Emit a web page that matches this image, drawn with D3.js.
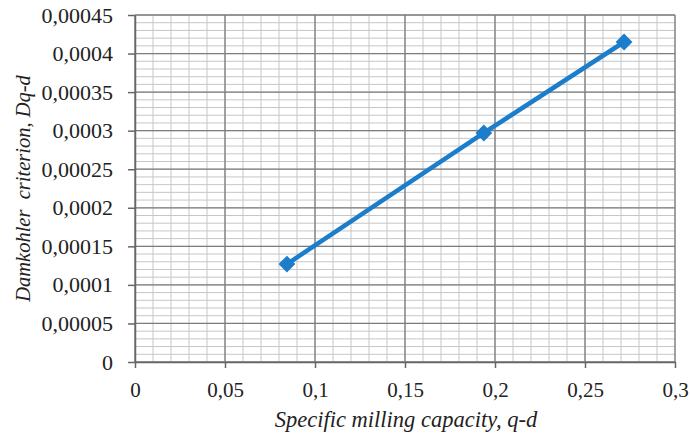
<!DOCTYPE html>
<html>
<head>
<meta charset="utf-8">
<script src="https://cdn.jsdelivr.net/npm/d3@7"></script>
<style>
  body { margin: 0; background: #fff; }
  text { font-family: "Liberation Serif", "Times New Roman", serif; fill: #222; }
</style>
</head>
<body>
<div class="chart"></div>
<script>
// data
var capacity = [0.0844, 0.1938, 0.2717];
var damkohler = [0.000127, 0.000297, 0.000415];

var xTicks = [0, 0.05, 0.1, 0.15, 0.2, 0.25, 0.3];
var xTickLabels = ["0", "0,05", "0,1", "0,15", "0,2", "0,25", "0,3"];
var yTicks = [0, 0.00005, 0.0001, 0.00015, 0.0002, 0.00025, 0.0003, 0.00035, 0.0004, 0.00045];
var yTickLabels = ["0", "0,00005", "0,0001", "0,00015", "0,0002", "0,00025", "0,0003", "0,00035", "0,0004", "0,00045"];

var W = 691, H = 436;
var pLeft = 135, pRight = 675, pTop = 15, pBottom = 362;

var svg = d3.select(".chart").append("svg")
  .attr("width", W)
  .attr("height", H);

var x = d3.scaleLinear().domain([0, 0.3]).range([pLeft, pRight]);
var y = d3.scaleLinear().domain([0, 0.00045]).range([pBottom, pTop]);

// minor grid, 5 steps between majors
var xMinor = d3.range(0, 31).map(function(i) { return i * 0.01; });
var yMinor = d3.range(0, 46).map(function(i) { return i * 0.00001; });

svg.append("g").selectAll("line").data(xMinor).enter().append("line")
  .attr("x1", function(d) { return x(d); }).attr("x2", function(d) { return x(d); })
  .attr("y1", pTop).attr("y2", pBottom)
  .attr("stroke", "#c6c6c6").attr("stroke-width", 1);
svg.append("g").selectAll("line").data(yMinor).enter().append("line")
  .attr("x1", pLeft).attr("x2", pRight)
  .attr("y1", function(d) { return y(d); }).attr("y2", function(d) { return y(d); })
  .attr("stroke", "#c6c6c6").attr("stroke-width", 1);

// major grid
svg.append("g").selectAll("line").data(xTicks).enter().append("line")
  .attr("x1", function(d) { return x(d); }).attr("x2", function(d) { return x(d); })
  .attr("y1", pTop).attr("y2", pBottom)
  .attr("stroke", "#7d7d7d").attr("stroke-width", 1.3);
svg.append("g").selectAll("line").data(yTicks).enter().append("line")
  .attr("x1", pLeft).attr("x2", pRight)
  .attr("y1", function(d) { return y(d); }).attr("y2", function(d) { return y(d); })
  .attr("stroke", "#7d7d7d").attr("stroke-width", 1.3);

// axes
var xAxis = d3.axisBottom(x).tickValues(xTicks)
  .tickFormat(function(d, i) { return xTickLabels[i]; })
  .tickSizeInner(6).tickSizeOuter(0).tickPadding(14);
var yAxis = d3.axisLeft(y).tickValues(yTicks)
  .tickFormat(function(d, i) { return yTickLabels[i]; })
  .tickSizeInner(7).tickSizeOuter(0).tickPadding(15);

var gx = svg.append("g").attr("transform", "translate(0," + pBottom + ")").call(xAxis);
var gy = svg.append("g").attr("transform", "translate(" + pLeft + ",0)").call(yAxis);
[gx, gy].forEach(function(g) {
  g.selectAll("path, line").attr("stroke", "#666").attr("stroke-width", 1.5);
  g.selectAll("text").attr("font-size", 22).attr("font-family", "Liberation Serif").attr("fill", "#222");
});
gx.selectAll("text").attr("font-size", 21);

// series
var pts = capacity.map(function(c, i) { return [c, damkohler[i]]; });
svg.append("path")
  .datum(pts)
  .attr("fill", "none")
  .attr("stroke", "#1c7dca")
  .attr("stroke-width", 4.5)
  .attr("d", d3.line().x(function(d) { return x(d[0]); }).y(function(d) { return y(d[1]); }));

svg.append("g").selectAll("path").data(pts).enter().append("path")
  .attr("d", d3.symbol().type(d3.symbolDiamond2).size(180))
  .attr("transform", function(d) { return "translate(" + x(d[0]) + "," + y(d[1]) + ")"; })
  .attr("fill", "#1c7dca");

// titles
svg.append("text")
  .attr("x", (pLeft + pRight) / 2 + 1).attr("y", 427)
  .attr("text-anchor", "middle")
  .attr("font-style", "italic")
  .attr("font-size", 22.5)
  .text("Specific milling capacity, q-d");

svg.append("text")
  .attr("transform", "translate(30," + ((pTop + pBottom) / 2) + ") rotate(-90)")
  .attr("text-anchor", "middle")
  .attr("font-style", "italic")
  .attr("font-size", 20.5)
  .style("white-space", "pre")
  .text("Damkohler  criterion, Dq-d");
</script>
</body>
</html>
